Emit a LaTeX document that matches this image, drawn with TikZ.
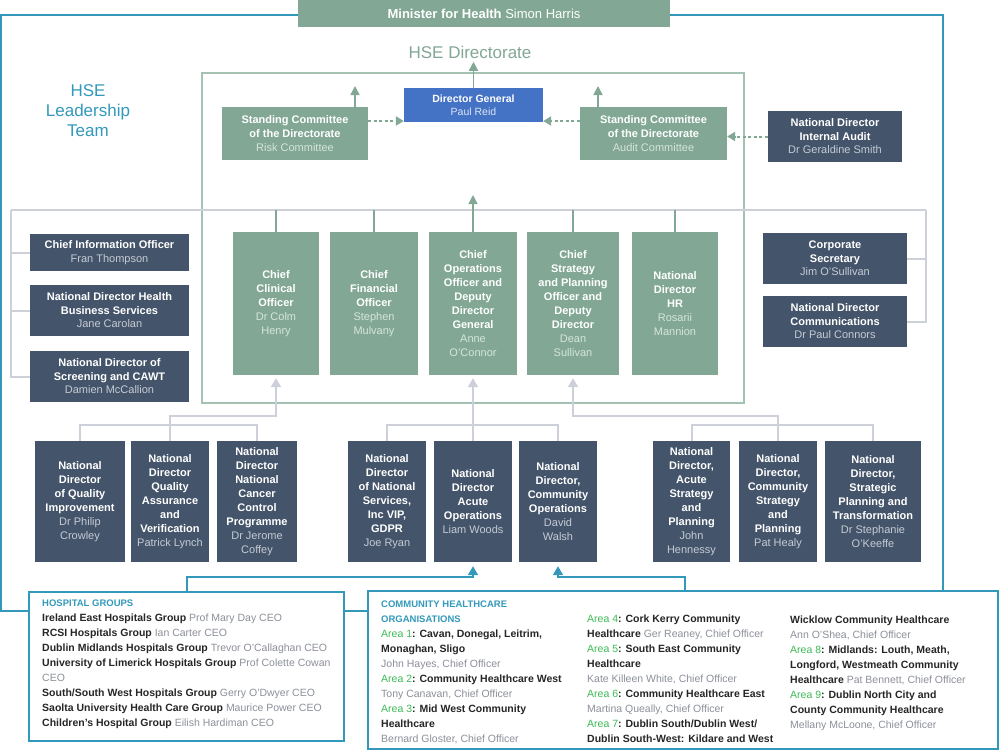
\documentclass[tikz,border=0pt]{standalone}
\usepackage{fontspec}
\setmainfont{Liberation Sans}
\usetikzlibrary{arrows.meta}
\definecolor{hsegreen}{HTML}{82A895}
\definecolor{hseline}{HTML}{A3C2B2}
\definecolor{hseslate}{HTML}{44546A}
\definecolor{hseblue}{HTML}{4472C4}
\definecolor{hseteal}{HTML}{3399BB}
\definecolor{hsegray}{HTML}{CDD0D9}
\definecolor{namelight}{HTML}{C5CBD5}
\definecolor{namegreen}{HTML}{D6E5DC}
\definecolor{nameblue}{HTML}{DCE4F4}
\definecolor{textdark}{HTML}{262626}
\definecolor{textgray}{HTML}{8C9099}
\definecolor{areagreen}{HTML}{3DBB55}
\newcommand{\who}[1]{{\mdseries\color{namelight}#1}}
\newcommand{\whog}[1]{{\mdseries\color{namegreen}#1}}
\newcommand{\whob}[1]{{\mdseries\color{nameblue}#1}}
\newcommand{\off}[1]{{\color{textgray}#1}}
\newcommand{\area}[1]{{\color{areagreen}Area #1}}
\newcommand{\hdr}[1]{{\color{hseteal}\fontsize{9.5}{15}\selectfont\textbf{#1}}}
\begin{document}
\begin{tikzpicture}[x=1pt,y=-1pt,
	box/.style={inner sep=0pt,align=center,text=white,font=\bfseries\fontsize{11}{14}\selectfont},
	greenbox/.style={box,fill=hsegreen},
	slatebox/.style={box,fill=hseslate},
	sidebox/.style={slatebox,font=\bfseries\fontsize{11}{13.5}\selectfont},
	tierbox/.style={greenbox,minimum height=143},
	lowbox/.style={slatebox,minimum height=121},
	listbox/.style={draw=hseteal,line width=2pt,inner sep=0pt},
	listtext/.style={anchor=north west,align=left,inner sep=0pt,text=textdark,font=\fontsize{10.5}{15}\selectfont},
	frameline/.style={draw=hseteal,line width=2pt},
	grayline/.style={draw=hsegray,line width=2pt},
	greenline/.style={draw=hsegreen,line width=1.5pt},
	grayarrow/.style={-{Triangle[width=10pt,length=9pt]}},
	greenarrow/.style={-{Triangle[width=9pt,length=9pt]}},
	dasharrow/.style={draw=hsegreen,line width=2pt,dash pattern=on 3pt off 2.5pt,-{Triangle[width=9pt,length=8pt]}},
	tealarrow/.style={frameline,-{Triangle[width=10pt,length=9pt]}}]
	\fill[white] (0,0) rectangle (1000,753);
	\useasboundingbox (0,0) rectangle (1000,753);
	\node[draw=hseline,line width=1.5pt,inner sep=0pt,minimum width=542,minimum height=330] (directorate) at (473,238) {};
	\node[greenbox,minimum width=372,minimum height=27,font=\fontsize{13}{14}\selectfont] (minister) at (484,13.5) {\textbf{Minister for Health} Simon Harris};
	\node[text=hsegreen,font=\fontsize{17}{20}\selectfont] (dirlabel) at (470,52) {HSE Directorate};
	\node[text=hseteal,align=center,font=\fontsize{17}{20}\selectfont] (leadlabel) at (88,111) {HSE\\Leadership\\Team};
	\node[box,fill=hseblue,minimum width=139,minimum height=34,font=\bfseries\fontsize{10.5}{13}\selectfont] (dg) at (473.5,105) {Director General\\\whob{Paul Reid}};
	\node[greenbox,minimum width=146,minimum height=53,font=\bfseries\fontsize{11}{14}\selectfont] (riskc) at (295,133.5) {Standing Committee\\of the Directorate\\\whog{Risk Committee}};
	\node[greenbox,minimum width=147,minimum height=53,font=\bfseries\fontsize{11}{14}\selectfont] (auditc) at (653.5,133.5) {Standing Committee\\of the Directorate\\\whog{Audit Committee}};
	\node[sidebox,minimum width=134,minimum height=51] (audit) at (835,136.5) {National Director\\Internal Audit\\\who{Dr Geraldine Smith}};

	\node[sidebox,minimum width=159,minimum height=37] (cio) at (109.5,252.5) {Chief Information Officer\\\who{Fran Thompson}};
	\node[sidebox,minimum width=159,minimum height=51] (hbs) at (109.5,310.5) {National Director Health\\Business Services\\\who{Jane Carolan}};
	\node[sidebox,minimum width=159,minimum height=51] (screen) at (109.5,376.5) {National Director of\\Screening and CAWT\\\who{Damien McCallion}};
	\node[sidebox,minimum width=144,minimum height=51] (corpsec) at (835,258.5) {Corporate\\Secretary\\\who{Jim O'Sullivan}};
	\node[sidebox,minimum width=144,minimum height=51] (comms) at (835,321.5) {National Director\\Communications\\\who{Dr Paul Connors}};

	\node[tierbox,minimum width=86] (cco) at (276,303.5) {Chief\\Clinical\\Officer\\\whog{Dr Colm}\\\whog{Henry}};
	\node[tierbox,minimum width=88] (cfo) at (374,303.5) {Chief\\Financial\\Officer\\\whog{Stephen}\\\whog{Mulvany}};
	\node[tierbox,minimum width=88] (coo) at (473,303.5) {Chief\\Operations\\Officer and\\Deputy\\Director\\General\\\whog{Anne}\\\whog{O'Connor}};
	\node[tierbox,minimum width=92] (cso) at (573,303.5) {Chief\\Strategy\\and Planning\\Officer and\\Deputy\\Director\\\whog{Dean}\\\whog{Sullivan}};
	\node[tierbox,minimum width=86] (hr) at (675,303.5) {National\\Director\\HR\\\whog{Rosarii}\\\whog{Mannion}};

	\node[lowbox,minimum width=90] (ndqi) at (80,501.5) {National\\Director\\of Quality\\Improvement\\\who{Dr Philip}\\\who{Crowley}};
	\node[lowbox,minimum width=78] (ndqa) at (170,501.5) {National\\Director\\Quality\\Assurance\\and\\Verification\\\who{Patrick Lynch}};
	\node[lowbox,minimum width=80] (ndcc) at (257,501.5) {National\\Director\\National\\Cancer\\Control\\Programme\\\who{Dr Jerome}\\\who{Coffey}};
	\node[lowbox,minimum width=78] (ndns) at (387,501.5) {National\\Director\\of National\\Services,\\Inc VIP,\\GDPR\\\who{Joe Ryan}};
	\node[lowbox,minimum width=78] (ndao) at (473,501.5) {National\\Director\\Acute\\Operations\\\who{Liam Woods}};
	\node[lowbox,minimum width=78] (ndco) at (558,501.5) {National\\Director,\\Community\\Operations\\\who{David}\\\who{Walsh}};
	\node[lowbox,minimum width=77] (ndas) at (691.5,501.5) {National\\Director,\\Acute\\Strategy\\and\\Planning\\\who{John}\\\who{Hennessy}};
	\node[lowbox,minimum width=78] (ndcs) at (778,501.5) {National\\Director,\\Community\\Strategy\\and\\Planning\\\who{Pat Healy}};
	\node[lowbox,minimum width=96] (ndsp) at (873,501.5) {National\\Director,\\Strategic\\Planning and\\Transformation\\\who{Dr Stephanie}\\\who{O'Keeffe}};

	\node[listbox,minimum width=315,minimum height=149] (hosp) at (186.5,666.5) {};
	\node[listbox,minimum width=630,minimum height=158] (chbox) at (683,670) {};
	\node[listtext] (hosptext) at (42,600) {\hdr{HOSPITAL GROUPS}\\
		\textbf{Ireland East Hospitals Group} \off{Prof Mary Day CEO}\\
		\textbf{RCSI Hospitals Group} \off{Ian Carter CEO}\\
		\textbf{Dublin Midlands Hospitals Group} \off{Trevor O'Callaghan CEO}\\
		\textbf{University of Limerick Hospitals Group} \off{Prof Colette Cowan}\\
		\off{CEO}\\
		\textbf{South/South West Hospitals Group} \off{Gerry O'Dwyer CEO}\\
		\textbf{Saolta University Health Care Group} \off{Maurice Power CEO}\\
		\textbf{Children's Hospital Group} \off{Eilish Hardiman CEO}};
	\node[listtext] (chone) at (381,601) {\hdr{COMMUNITY HEALTHCARE}\\
		\hdr{ORGANISATIONS}\\
		\area{1}\textbf{: Cavan, Donegal, Leitrim,}\\
		\textbf{Monaghan, Sligo}\\
		\off{John Hayes, Chief Officer}\\
		\area{2}\textbf{: Community Healthcare West}\\
		\off{Tony Canavan, Chief Officer}\\
		\area{3}\textbf{: Mid West Community}\\
		\textbf{Healthcare}\\
		\off{Bernard Gloster, Chief Officer}};
	\node[listtext] (chtwo) at (587,615) {\area{4}\textbf{: Cork Kerry Community}\\
		\textbf{Healthcare} \off{Ger Reaney, Chief Officer}\\
		\area{5}\textbf{: South East Community}\\
		\textbf{Healthcare}\\
		\off{Kate Killeen White, Chief Officer}\\
		\area{6}\textbf{: Community Healthcare East}\\
		\off{Martina Queally, Chief Officer}\\
		\area{7}\textbf{: Dublin South/Dublin West/}\\
		\textbf{Dublin South-West: Kildare and West}};
	\node[listtext] (chthree) at (790,616) {\textbf{Wicklow Community Healthcare}\\
		\off{Ann O'Shea, Chief Officer}\\
		\area{8}\textbf{: Midlands: Louth, Meath,}\\
		\textbf{Longford, Westmeath Community}\\
		\textbf{Healthcare} \off{Pat Bennett, Chief Officer}\\
		\area{9}\textbf{: Dublin North City and}\\
		\textbf{County Community Healthcare}\\
		\off{Mellany McLoone, Chief Officer}};

	\coordinate (ftl) at (1,15);
	\coordinate (ftr) at (943,15);
	\coordinate (fbl) at (1,611);
	\draw[frameline] (minister.west |- ftl) -- (ftl) -- (fbl) -- (fbl -| hosp.west);
	\draw[frameline] (fbl -| hosp.east) -- (fbl -| chbox.west);
	\draw[frameline] (minister.east |- ftr) -- (ftr) -- (ftr |- chbox.north);

	\coordinate (riskup) at (355,86);
	\coordinate (auditup) at (598,86);
	\coordinate (cootip) at (473,195);
	\draw[greenline,greenarrow] (dg.north) -- (dg.north |- dirlabel.south);
	\draw[greenline,greenarrow] (riskc.north -| riskup) -- (riskup);
	\draw[greenline,greenarrow] (auditc.north -| auditup) -- (auditup);
	\draw[dasharrow] ([yshift=12.5pt]riskc.east) -- ([yshift=12.5pt]riskc.east -| dg.west);
	\draw[dasharrow] ([yshift=12.5pt]auditc.west) -- ([yshift=12.5pt]auditc.west -| dg.east);
	\draw[dasharrow] (audit.west) -- (audit.west -| auditc.east);

	\coordinate (lbus) at (11,210);
	\coordinate (rbus) at (926,210);
	\draw[grayline] (lbus) -- (rbus);
	\draw[grayline] (lbus) |- (screen.west);
	\draw[grayline] (cio.west -| lbus) -- (cio.west);
	\draw[grayline] (hbs.west -| lbus) -- (hbs.west);
	\draw[grayline] (rbus) |- (comms.east);
	\draw[grayline] (corpsec.east -| rbus) -- (corpsec.east);
	\draw[greenline] (cco.north |- lbus) -- (cco.north);
	\draw[greenline] (cfo.north |- lbus) -- (cfo.north);
	\draw[greenline] (cso.north |- lbus) -- (cso.north);
	\draw[greenline] (hr.north |- lbus) -- (hr.north);
	\draw[greenline,greenarrow] (coo.north) -- (cootip);

	\draw[grayline,grayarrow,shorten >=3pt] (ndqa.north) -- ++(0,-25) -| (cco.south);
	\draw[grayline] (ndqi.north) -- ++(0,-16) -| (ndcc.north);
	\draw[grayline,grayarrow,shorten >=3pt] (ndao.north) -- (coo.south);
	\draw[grayline] (ndns.north) -- ++(0,-16) -| (ndco.north);
	\draw[grayline,grayarrow,shorten >=3pt] (ndcs.north) -- ++(0,-25) -| (cso.south);
	\draw[grayline] (ndas.north) -- ++(0,-16) -| (ndsp.north);

	\coordinate (chup) at (685,591);
	\draw[tealarrow,shorten >=4pt] (hosp.north) -- ++(0,-14) -| (ndao.south);
	\draw[tealarrow,shorten >=4pt] (chup) -- ++(0,-14) -| (ndco.south);
\end{tikzpicture}
\end{document}
